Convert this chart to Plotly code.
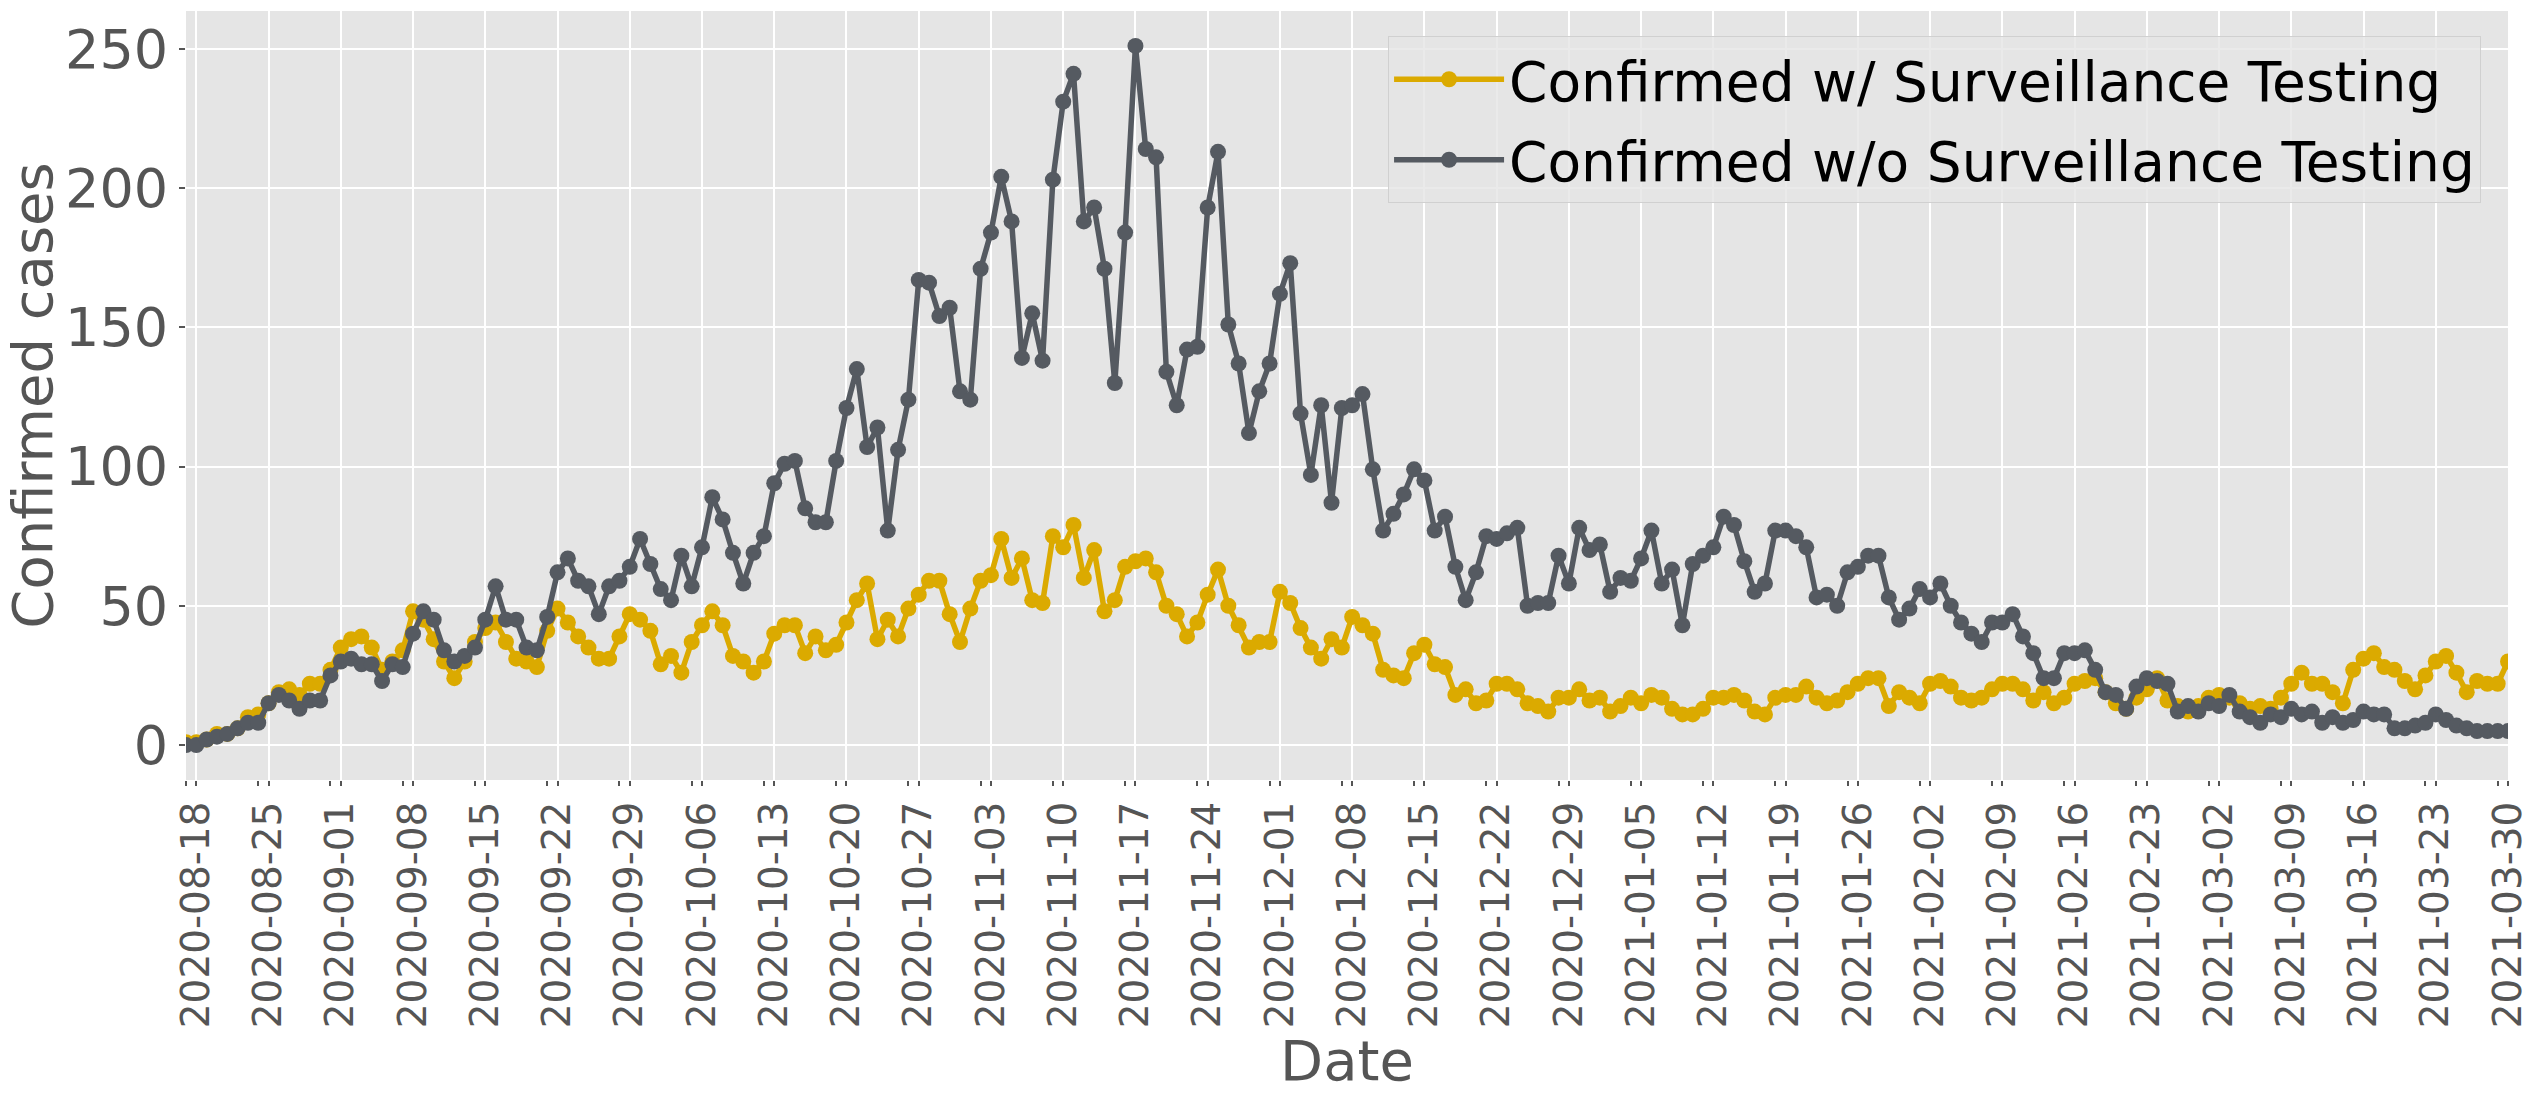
import pandas as pd
import plotly.graph_objects as go

# --- Daily confirmed cases, 2020-08-17 .. 2021-03-30 ---
start_date = "2020-08-17"
end_date = "2021-03-30"

with_surveillance = [
    1, 1, 2, 4, 4, 6, 10, 11, 15, 19, 20, 18, 22, 22, 27, 35, 38, 39, 35, 27,
    30, 34, 48, 45, 38, 30, 24, 30, 37, 42, 44, 37, 31, 30, 28, 41, 49, 44, 39, 35,
    31, 31, 39, 47, 45, 41, 29, 32, 26, 37, 43, 48, 43, 32, 30, 26, 30, 40, 43, 43,
    33, 39, 34, 36, 44, 52, 58, 38, 45, 39, 49, 54, 59, 59, 47, 37, 49, 59, 61, 74,
    60, 67, 52, 51, 75, 71, 79, 60, 70, 48, 52, 64, 66, 67, 62, 50, 47, 39, 44, 54,
    63, 50, 43, 35, 37, 37, 55, 51, 42, 35, 31, 38, 35, 46, 43, 40, 27, 25, 24, 33,
    36, 29, 28, 18, 20, 15, 16, 22, 22, 20, 15, 14, 12, 17, 17, 20, 16, 17, 12, 14,
    17, 15, 18, 17, 13, 11, 11, 13, 17, 17, 18, 16, 12, 11, 17, 18, 18, 21, 17, 15,
    16, 19, 22, 24, 24, 14, 19, 17, 15, 22, 23, 21, 17, 16, 17, 20, 22, 22, 20, 16,
    19, 15, 17, 22, 23, 24, 19, 15, 13, 17, 20, 24, 16, 14, 12, 14, 17, 18, 17, 15,
    13, 14, 13, 17, 22, 26, 22, 22, 19, 15, 27, 31, 33, 28, 27, 23, 20, 25, 30, 32,
    26, 19, 23, 22, 22, 30,
]

without_surveillance = [
    0, 0, 2, 3, 4, 6, 8, 8, 15, 18, 16, 13, 16, 16, 25, 30, 31, 29, 29, 23,
    29, 28, 40, 48, 45, 34, 30, 32, 35, 45, 57, 45, 45, 35, 34, 46, 62, 67, 59, 57,
    47, 57, 59, 64, 74, 65, 56, 52, 68, 57, 71, 89, 81, 69, 58, 69, 75, 94, 101, 102,
    85, 80, 80, 102, 121, 135, 107, 114, 77, 106, 124, 167, 166, 154, 157, 127, 124, 171, 184, 204,
    188, 139, 155, 138, 203, 231, 241, 188, 193, 171, 130, 184, 251, 214, 211, 134, 122, 142, 143, 193,
    213, 151, 137, 112, 127, 137, 162, 173, 119, 97, 122, 87, 121, 122, 126, 99, 77, 83, 90, 99,
    95, 77, 82, 64, 52, 62, 75, 74, 76, 78, 50, 51, 51, 68, 58, 78, 70, 72, 55, 60,
    59, 67, 77, 58, 63, 43, 65, 68, 71, 82, 79, 66, 55, 58, 77, 77, 75, 71, 53, 54,
    50, 62, 64, 68, 68, 53, 45, 49, 56, 53, 58, 50, 44, 40, 37, 44, 44, 47, 39, 33,
    24, 24, 33, 33, 34, 27, 19, 18, 13, 21, 24, 23, 22, 12, 14, 12, 15, 14, 18, 12,
    10, 8, 11, 10, 13, 11, 12, 8, 10, 8, 9, 12, 11, 11, 6, 6, 7, 8, 11, 9,
    7, 6, 5, 5, 5, 5,
]

dates = pd.date_range(start_date, end_date, freq="D")

# weekly tick labels, starting the day after the first data point
tick_dates = pd.date_range("2020-08-18", end_date, freq="7D")
tick_labels = [d.strftime("%Y-%m-%d") for d in tick_dates]

YELLOW = "#dbaa00"
GREY = "#555a61"
TEXT = "#555555"

fig = go.Figure()

fig.add_trace(
    go.Scatter(
        x=dates,
        y=with_surveillance,
        mode="lines+markers",
        name="Confirmed w/ Surveillance Testing",
        legendgroup="a",
        line=dict(width=5.5, color=YELLOW),
        marker=dict(size=16, color=YELLOW),
    )
)

fig.add_trace(
    go.Scatter(
        x=dates,
        y=without_surveillance,
        mode="lines+markers",
        name="Confirmed w/o Surveillance Testing",
        legendgroup="b",
        line=dict(width=5.5, color=GREY),
        marker=dict(size=16, color=GREY),
    )
)

fig.update_layout(
    width=2541,
    height=1101,
    margin=dict(l=186, r=31, t=11, b=321),
    paper_bgcolor="white",
    plot_bgcolor="#e5e5e5",
    font=dict(family="DejaVu Sans", color=TEXT),
    showlegend=True,
    legend=dict(
        x=0.9884,
        y=0.9675,
        xanchor="right",
        yanchor="top",
        bgcolor="rgba(229,229,229,0.8)",
        bordercolor="#d0d0d0",
        borderwidth=1,
        font=dict(size=55, color="black"),
        itemwidth=110,
        tracegroupgap=6,
    ),
)

fig.update_xaxes(
    type="date",
    range=[start_date, end_date],
    tickmode="array",
    tickvals=tick_dates,
    ticktext=tick_labels,
    tickangle=-90,
    tickfont=dict(size=39, color=TEXT),
    ticks="outside",
    ticklen=5,
    tickwidth=1.5,
    tickcolor=TEXT,
    showgrid=True,
    gridcolor="white",
    gridwidth=2,
    zeroline=False,
    showline=False,
    minor=dict(
        tick0=start_date,
        dtick=7 * 86400000,
        ticks="outside",
        ticklen=5,
        tickcolor=TEXT,
        showgrid=False,
    ),
    title=dict(text="Date", font=dict(size=56, color=TEXT), standoff=8),
)

fig.update_yaxes(
    range=[-12.55, 263.55],
    tickvals=[0, 50, 100, 150, 200, 250],
    tickfont=dict(size=54, color=TEXT),
    ticks="outside",
    ticklen=6,
    tickwidth=1.5,
    tickcolor=TEXT,
    showgrid=True,
    gridcolor="white",
    gridwidth=2,
    zeroline=False,
    showline=False,
    title=dict(text="Confirmed cases", font=dict(size=56, color=TEXT), standoff=14),
)

fig.write_html(
    "out.html",
    config={"displayModeBar": False},
    post_script="document.body.style.margin='0';",
)
